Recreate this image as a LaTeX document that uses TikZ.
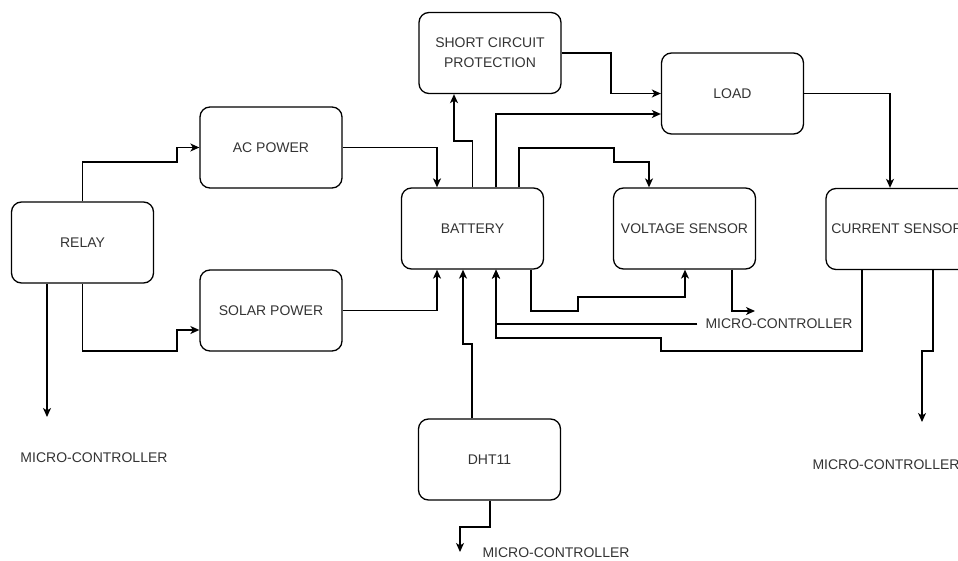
\documentclass[tikz,border=0pt]{standalone}
\usepackage{fontspec}
\setmainfont{Liberation Sans}
\usetikzlibrary{arrows.meta}
\definecolor{txt}{HTML}{333333}
\tikzset{
  blk/.style={draw=black, line width=1.3pt, rounded corners=10pt, minimum width=142pt, minimum height=81pt,
    inner sep=0pt, align=center, text=txt, font=\fontsize{14}{20}\selectfont},
  lbl/.style={inner sep=0pt, text=txt, font=\fontsize{14}{20}\selectfont},
  arr/.style={draw=black, line width=1.3pt, -{Stealth[length=9pt,width=8pt,inset=2.5pt]}},
  ln/.style={draw=black, line width=1.3pt}
}
\begin{document}
\begin{tikzpicture}[x=1pt,y=-1pt]
\useasboundingbox (0,0) rectangle (958,561);
% boxes
\node[blk] (scp) at (490,53) {SHORT CIRCUIT\\PROTECTION};
\node[blk] (load) at (732.5,93.5) {LOAD};
\node[blk] (ac) at (271,147.5) {AC POWER};
\node[blk] (relay) at (82.5,242.5) {RELAY};
\node[blk] (solar) at (271,310.5) {SOLAR POWER};
\node[blk] (bat) at (472.5,228.5) {BATTERY};
\node[blk] (vs) at (684.5,228.5) {VOLTAGE SENSOR};
\node[blk] (cs) at (897,229) {CURRENT SENSOR};
\node[blk] (dht) at (489.5,459.5) {DHT11};
% labels
\node[lbl] (mc1) at (94,458) {MICRO-CONTROLLER};
\node[lbl] (mc2) at (779,324) {MICRO-CONTROLLER};
\node[lbl] (mc3) at (886,465) {MICRO-CONTROLLER};
\node[lbl] (mc4) at (556,553) {MICRO-CONTROLLER};
% free ends
\coordinate (e1) at (47,417);
\coordinate (e2) at (755,311);
\coordinate (e3) at (922,422);
\coordinate (e4) at (460,552);
% connectors
\draw[arr] (relay.north) |- (177,162) |- (ac.west);
\draw[arr] (relay.south) |- (177,351) |- ([yshift=-19.5pt]solar.west);
\draw[arr] (relay.south -| e1) -- (e1);
\draw[arr] (ac.east) -| ([xshift=-35.5pt]bat.north);
\draw[arr] (solar.east) -| ([xshift=-35.5pt]bat.south);
\draw[arr] (bat.north) |- (454,141) -- ([xshift=-36pt]scp.south);
\draw[arr] ([xshift=23.5pt]bat.north) |- ([yshift=-20.5pt]load.west);
\draw[arr] ([xshift=46.5pt]bat.north) |- (614,148) |- (649,162) -- ([xshift=-35.5pt]vs.north);
\draw[arr] (scp.east) -- (611,53) |- (load.west);
\draw[arr] (load.east) -| ([xshift=-7pt]cs.north);
\draw[arr] ([xshift=58.5pt]bat.south) |- (578,311) |- (685,297) -- ([xshift=0.5pt]vs.south);
\draw[arr] ([xshift=47.5pt]vs.south) |- (e2);
\draw[arr] ([xshift=-8pt]mc2.west) -| ([xshift=23.5pt]bat.south);
\draw[arr] ([xshift=-35pt]cs.south) |- (661,351) |- (496,338) -- ([xshift=23.5pt]bat.south);
\draw[arr] ([xshift=36pt]cs.south) |- (922,351) -- (e3);
\draw[arr] ([xshift=-17.5pt]dht.north) |- (463,344) -- ([xshift=-9.5pt]bat.south);
\draw[arr] ([xshift=0.5pt]dht.south) |- (460,527) -- (e4);
\end{tikzpicture}
\end{document}
